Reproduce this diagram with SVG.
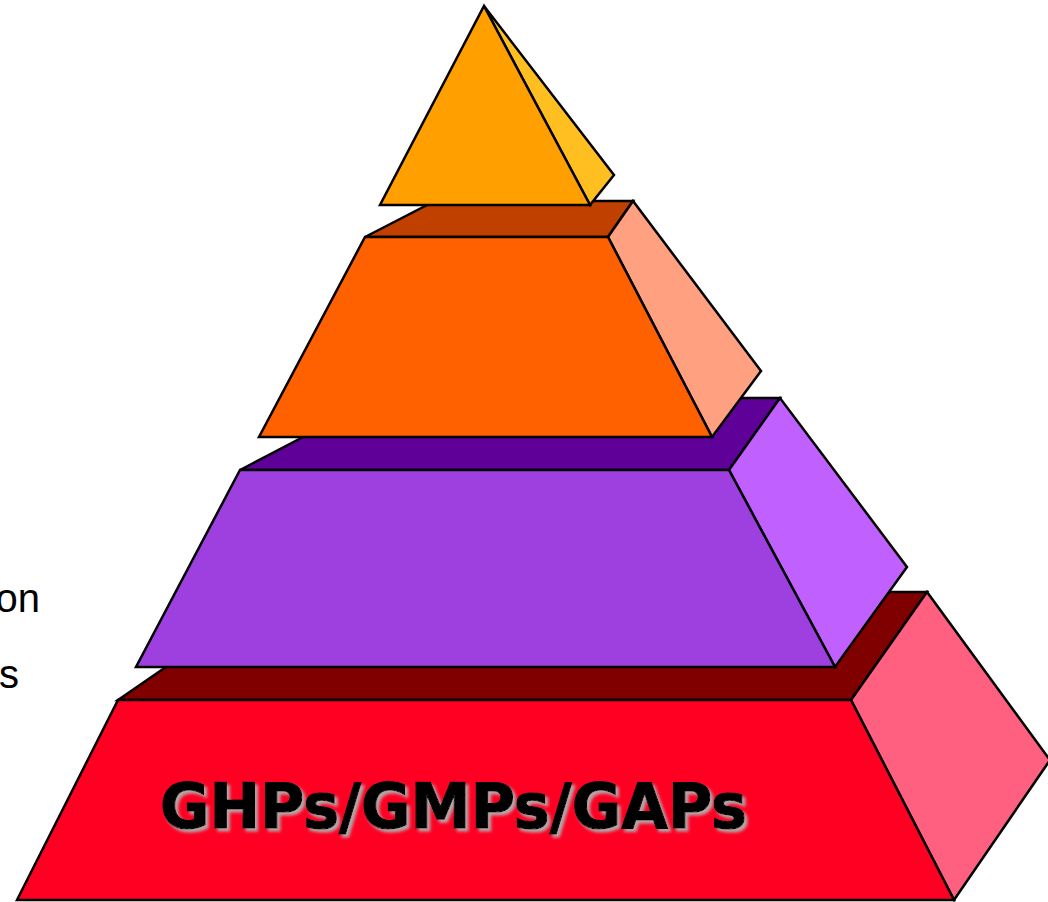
<svg xmlns="http://www.w3.org/2000/svg" width="1048" height="902" viewBox="0 0 1048 902">
  <defs>
    <style>
      .f { stroke: #000; stroke-width: 2.5; stroke-linejoin: miter; }
      .side-text { font-family: "Liberation Sans", Arial, sans-serif; font-size: 40px; fill: #000; }
      .label { font-family: "DejaVu Sans", Verdana, sans-serif; font-weight: bold; font-size: 63px; fill: #000; stroke: #000; stroke-width: 1.2; }
    </style>
    <filter id="shadow" x="-10%" y="-30%" width="120%" height="160%">
      <feDropShadow dx="3" dy="3" stdDeviation="1.8" flood-color="#b0b0b0" flood-opacity="0.95"/>
    </filter>
  </defs>
  <rect width="1048" height="902" fill="#fff"/>

  <text class="side-text" x="40" y="612" text-anchor="end">on</text>
  <text class="side-text" x="19" y="688" text-anchor="end">s</text>

  <g id="tier-base">
    <polygon class="f" fill="#800000" points="118,700 275,592 927,592 851,700"/>
    <polygon class="f" fill="#FF6080" points="851,700 927,592 1050,760 954,900"/>
    <polygon class="f" fill="#FF0022" points="118,700 851,700 954,900 17,900"/>
    <text class="label" x="160" y="828" textLength="587" lengthAdjust="spacingAndGlyphs" filter="url(#shadow)">GHPs/GMPs/GAPs</text>
  </g>

  <g id="tier-purple">
    <polygon class="f" fill="#5F0099" points="240,470 378,398 780,398 729,470"/>
    <polygon class="f" fill="#BF60FF" points="729,470 780,398 907,567 835,667"/>
    <polygon class="f" fill="#9E40E0" points="240,470 729,470 835,667 136,667"/>
  </g>

  <g id="tier-orange">
    <polygon class="f" fill="#C04000" points="365,237 435,201 633,201 608,237"/>
    <polygon class="f" fill="#FFA080" points="608,237 633,201 761,371 712,437"/>
    <polygon class="f" fill="#FF6000" points="365,237 608,237 712,437 259,437"/>
  </g>

  <g id="tier-top">
    <polygon class="f" fill="#FFBF20" points="484,6 614,175 590,205"/>
    <polygon class="f" fill="#FFA000" points="484,6 590,205 380,205"/>
  </g>

  <g id="connectors"></g>
</svg>
